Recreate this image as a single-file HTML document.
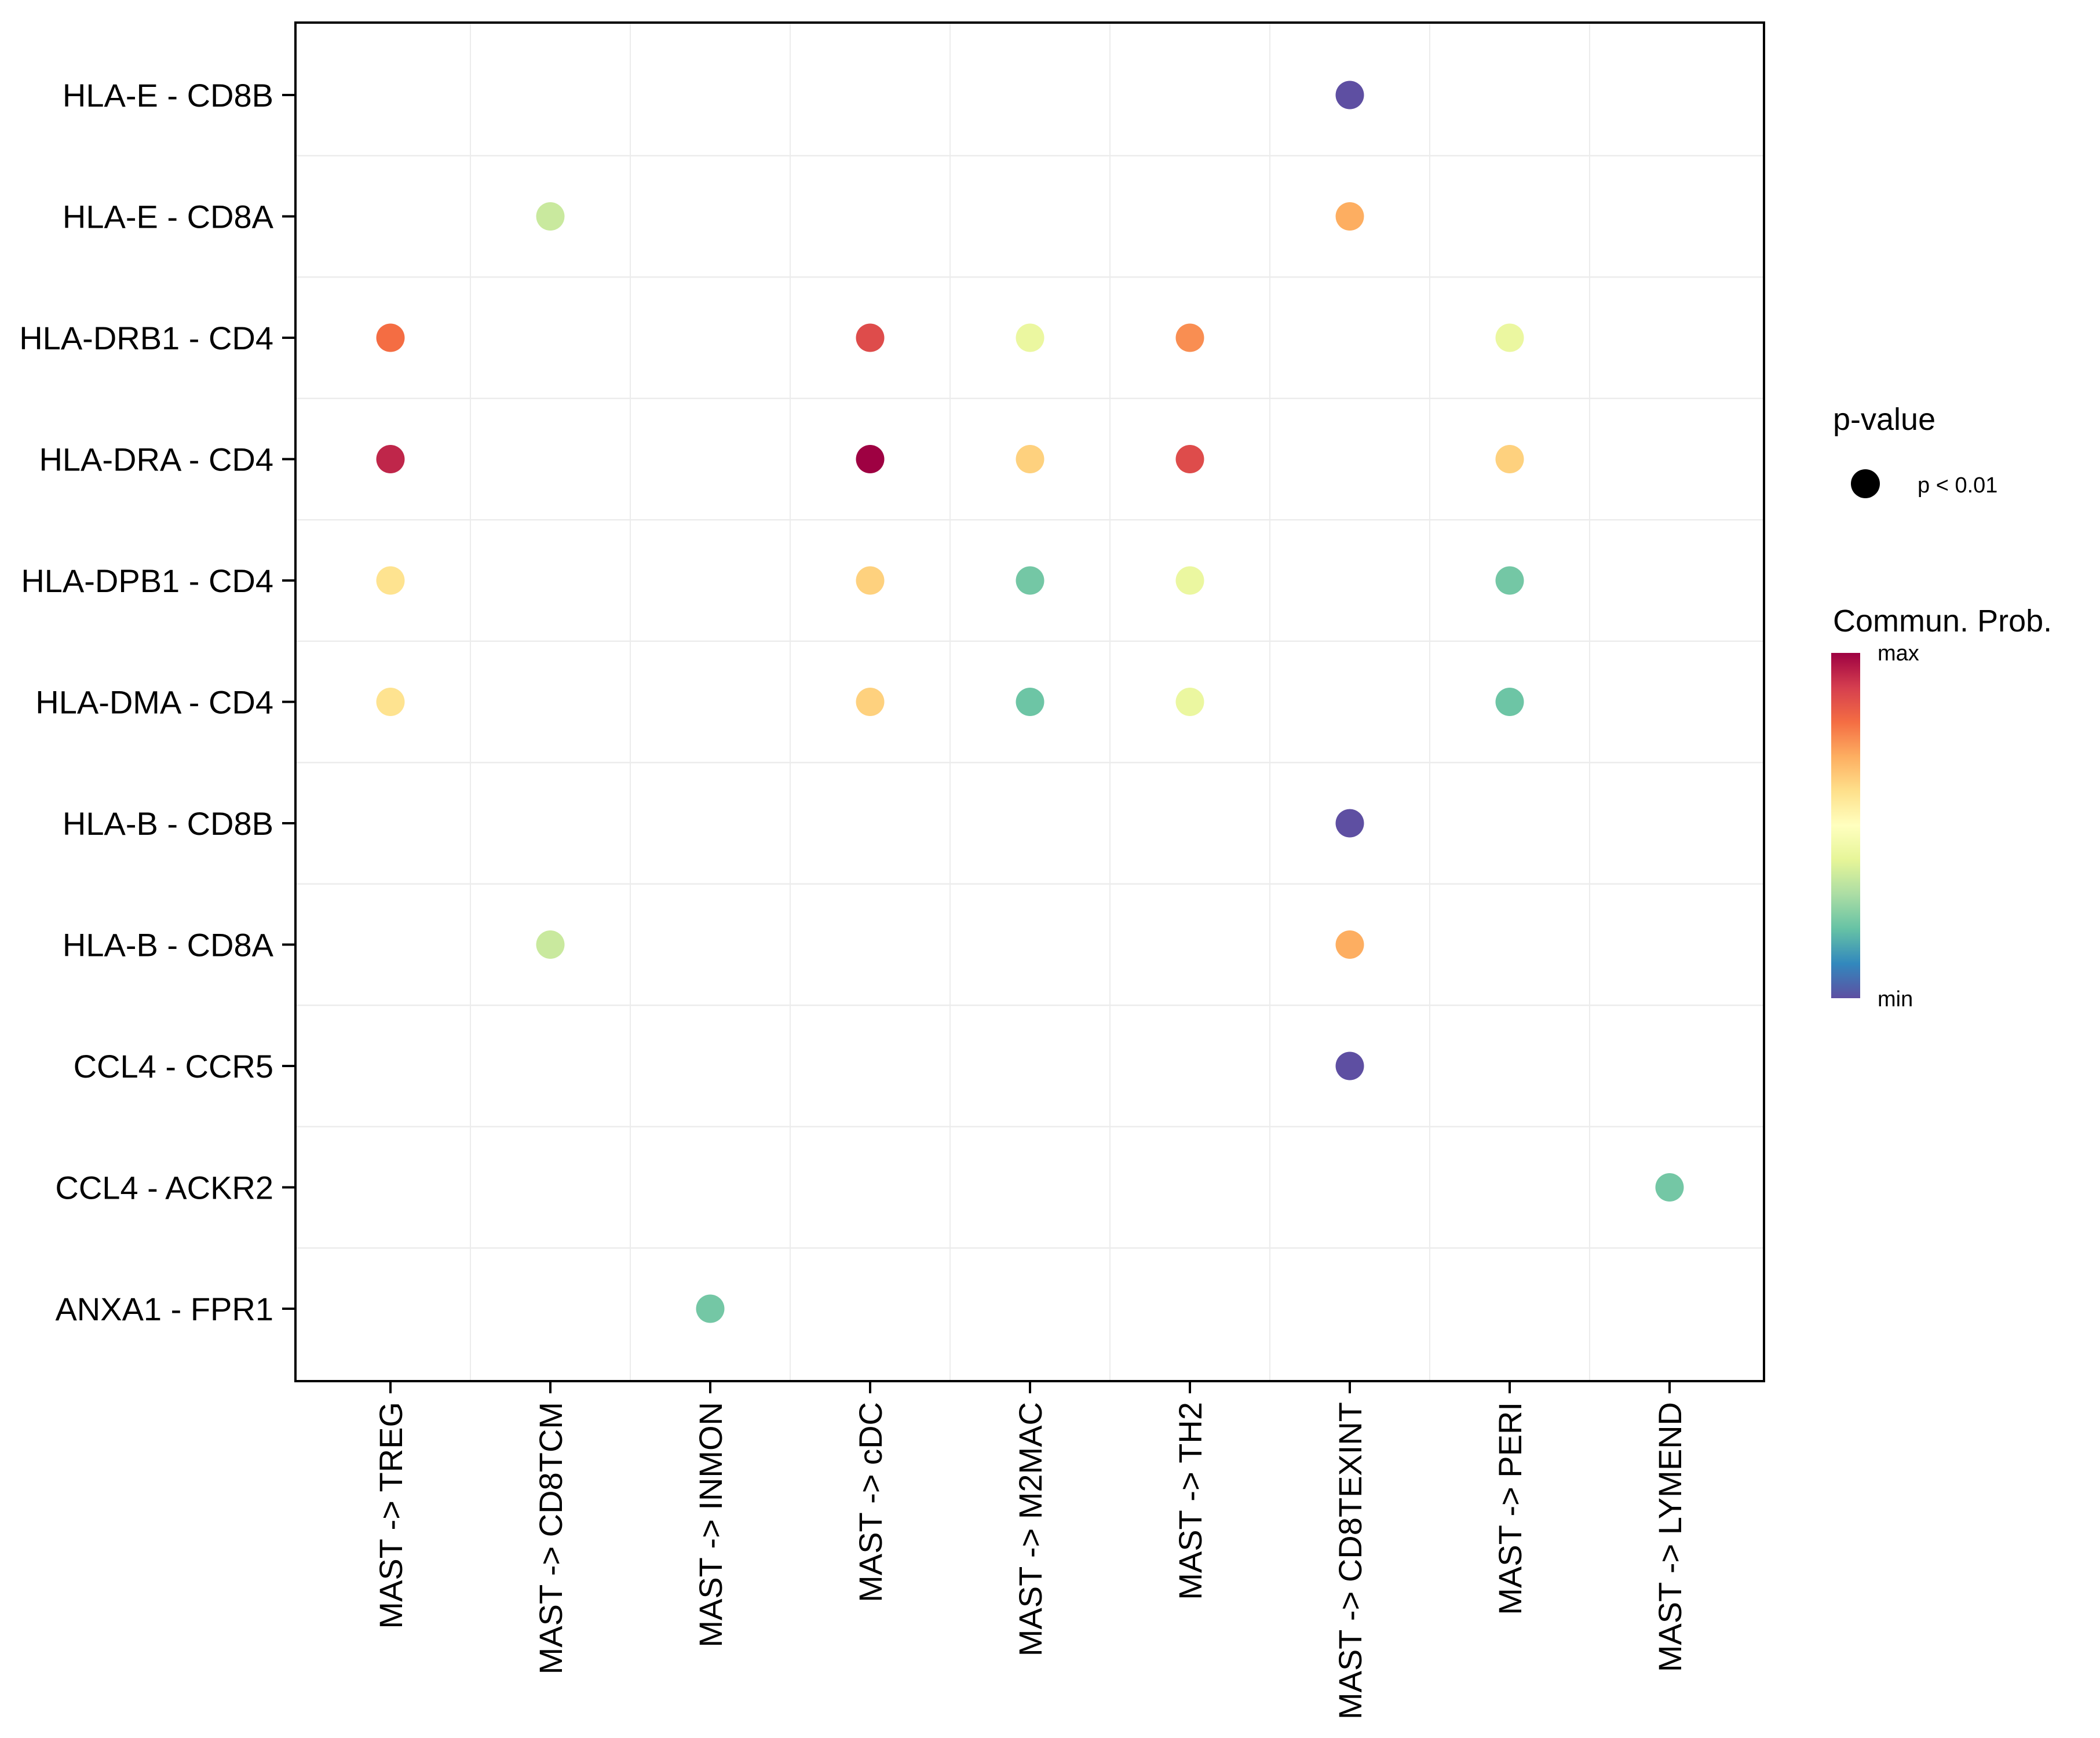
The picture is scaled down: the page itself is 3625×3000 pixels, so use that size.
<!DOCTYPE html>
<html><head><meta charset="utf-8"><style>
html,body{margin:0;padding:0;background:#fff;}
svg{display:block;font-family:"Liberation Sans",Arial,sans-serif;}
</style></head><body>
<svg id="chart" width="3625" height="3000" viewBox="0 0 3625 3000" xmlns="http://www.w3.org/2000/svg">
<defs>
<linearGradient id="cbar" x1="0" y1="1" x2="0" y2="0">
<stop offset="0" stop-color="#5E4FA2"/><stop offset="0.1" stop-color="#3288BD"/><stop offset="0.2" stop-color="#66C2A5"/><stop offset="0.3" stop-color="#ABDDA4"/><stop offset="0.4" stop-color="#E6F598"/><stop offset="0.5" stop-color="#FFFFBF"/><stop offset="0.6" stop-color="#FEE08B"/><stop offset="0.7" stop-color="#FDAE61"/><stop offset="0.8" stop-color="#F46D43"/><stop offset="0.9" stop-color="#D53E4F"/><stop offset="1" stop-color="#9E0142"/>
</linearGradient>
</defs>
<g id="grid"></g>
<g id="dots"></g>
<rect x="510" y="39" width="2535" height="2345" fill="none" stroke="#000" stroke-width="4"/>
<g id="yaxis"></g>
<g id="xaxis"></g>
<g>
<text x="3164" y="742" font-size="54">p-value</text>
<circle cx="3220" cy="835" r="25" fill="#000"/>
<text x="3310" y="850" font-size="38">p &lt; 0.01</text>
</g>
<g>
<text x="3164" y="1090" font-size="54">Commun. Prob.</text>
<rect x="3161" y="1127" width="50" height="596" fill="url(#cbar)"/>
<text x="3241" y="1140" font-size="38">max</text>
<text x="3241" y="1737" font-size="38">min</text>
</g>
</svg>
<script>
const categories = ["MAST -> TREG","MAST -> CD8TCM","MAST -> INMON","MAST -> cDC","MAST -> M2MAC","MAST -> TH2","MAST -> CD8TEXINT","MAST -> PERI","MAST -> LYMEND"];
const pairs = ["HLA-E - CD8B","HLA-E - CD8A","HLA-DRB1 - CD4","HLA-DRA - CD4","HLA-DPB1 - CD4","HLA-DMA - CD4","HLA-B - CD8B","HLA-B - CD8A","CCL4 - CCR5","CCL4 - ACKR2","ANXA1 - FPR1"];
const dotPair = ["HLA-E - CD8B","HLA-E - CD8A","HLA-E - CD8A",
 "HLA-DRB1 - CD4","HLA-DRB1 - CD4","HLA-DRB1 - CD4","HLA-DRB1 - CD4","HLA-DRB1 - CD4",
 "HLA-DRA - CD4","HLA-DRA - CD4","HLA-DRA - CD4","HLA-DRA - CD4","HLA-DRA - CD4",
 "HLA-DPB1 - CD4","HLA-DPB1 - CD4","HLA-DPB1 - CD4","HLA-DPB1 - CD4","HLA-DPB1 - CD4",
 "HLA-DMA - CD4","HLA-DMA - CD4","HLA-DMA - CD4","HLA-DMA - CD4","HLA-DMA - CD4",
 "HLA-B - CD8B","HLA-B - CD8A","HLA-B - CD8A","CCL4 - CCR5","CCL4 - ACKR2","ANXA1 - FPR1"];
const dotTarget = ["MAST -> CD8TEXINT","MAST -> CD8TCM","MAST -> CD8TEXINT",
 "MAST -> TREG","MAST -> cDC","MAST -> M2MAC","MAST -> TH2","MAST -> PERI",
 "MAST -> TREG","MAST -> cDC","MAST -> M2MAC","MAST -> TH2","MAST -> PERI",
 "MAST -> TREG","MAST -> cDC","MAST -> M2MAC","MAST -> TH2","MAST -> PERI",
 "MAST -> TREG","MAST -> cDC","MAST -> M2MAC","MAST -> TH2","MAST -> PERI",
 "MAST -> CD8TEXINT","MAST -> CD8TCM","MAST -> CD8TEXINT","MAST -> CD8TEXINT","MAST -> LYMEND","MAST -> INMON"];
const dotProb = [0.0,0.35,0.7,
 0.8,0.87,0.42,0.75,0.42,
 0.94,1.0,0.63,0.87,0.63,
 0.59,0.63,0.22,0.42,0.22,
 0.59,0.63,0.21,0.42,0.21,
 0.0,0.35,0.7,0.0,0.22,0.22];

const NS="http://www.w3.org/2000/svg";
const spectral=["#5E4FA2","#3288BD","#66C2A5","#ABDDA4","#E6F598","#FFFFBF","#FEE08B","#FDAE61","#F46D43","#D53E4F","#9E0142"];
function colorScale(v){
  v=Math.max(0,Math.min(1,v));const t=v*10;const i=Math.min(9,Math.floor(t));const f=t-i;
  const a=spectral[i],b=spectral[i+1];
  const c=k=>Math.round(parseInt(a.substr(k,2),16)*(1-f)+parseInt(b.substr(k,2),16)*f);
  return `rgb(${c(1)},${c(3)},${c(5)})`;
}
const X0=674, DX=276, Y0=164, DY=209.5;
function xScale(cat){return X0+categories.indexOf(cat)*DX;}
function yScale(p){return Y0+pairs.indexOf(p)*DY;}
function mk(tag,attrs,parent){const e=document.createElementNS(NS,tag);for(const k in attrs)e.setAttribute(k,attrs[k]);parent.appendChild(e);return e;}
const grid=document.getElementById('grid');
for(let i=0;i<categories.length-1;i++){
  const x=(xScale(categories[i])+xScale(categories[i+1]))/2;
  const l=mk('line',{x1:x,x2:x,y1:39,y2:2384,stroke:'#ececec','stroke-width':2},grid);
  
  
}
for(let i=0;i<pairs.length-1;i++){
  const y=(yScale(pairs[i])+yScale(pairs[i+1]))/2;
  const l=mk('line',{x1:510,x2:3045,y1:y,y2:y,stroke:'#ececec','stroke-width':2.5},grid);
  
  
}
const yaxis=document.getElementById('yaxis');
pairs.forEach(p=>{
  const y=yScale(p);
  const t=mk('line',{x1:487,x2:510,y1:y,y2:y,stroke:'#000','stroke-width':4},yaxis);
  
  
  const tx=mk('text',{x:472,y:y+20,'font-size':56,'text-anchor':'end'},yaxis);
  tx.textContent=p;
  
  
});
const xaxis=document.getElementById('xaxis');
categories.forEach(c=>{
  const x=xScale(c);
  const t=mk('line',{x1:x,x2:x,y1:2384,y2:2405,stroke:'#000','stroke-width':4},xaxis);
  
  
  const tx=mk('text',{x:0,y:0,'font-size':56,'text-anchor':'end',transform:`translate(${x+20},2420) rotate(-90)`},xaxis);
  tx.textContent=c;
  
  
});
const dots=document.getElementById('dots');
for(let i=0;i<dotProb.length;i++){
  const c=mk('circle',{cx:xScale(dotTarget[i]),cy:yScale(dotPair[i]),r:24.5,fill:colorScale(dotProb[i])},dots);
  
  
}
</script>
</body></html>
